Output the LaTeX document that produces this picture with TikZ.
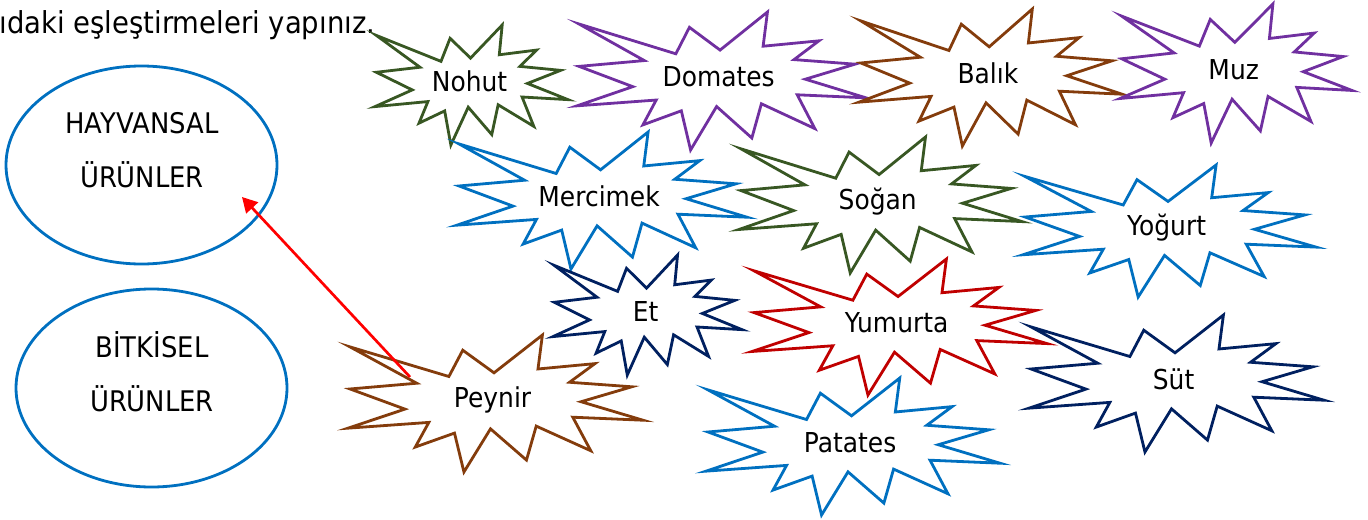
\documentclass[tikz,border=0pt]{standalone}
\usepackage{fontspec}
\setmainfont{DejaVu Sans}[FakeStretch=0.91]
\usepackage{tikz}
\usetikzlibrary{arrows.meta,shapes.geometric}

\definecolor{yesil}{HTML}{385723}
\definecolor{mor}{HTML}{7030A0}
\definecolor{kahve}{HTML}{843C0C}
\definecolor{mavi}{HTML}{0070C0}
\definecolor{lacivert}{HTML}{002060}
\definecolor{kirmizi}{HTML}{C00000}

% explosion: name, colour, left, top, width, height, text
\newcommand{\patlama}[7]{%
  \begin{scope}[shift={(#3,#4)},xscale=#5,yscale=#6]
    \draw[#2,line width=1.4pt,fill=white] (0.007,0.087) -- (0.342,0.303) -- (0.389,0.111) -- (0.495,0.276)
      -- (0.659,0.0) -- (0.644,0.248) -- (0.837,0.209) -- (0.751,0.345) -- (0.962,0.378) -- (0.790,0.487)
      -- (1.0,0.622) -- (0.762,0.600) -- (0.823,0.845) -- (0.638,0.665) -- (0.605,0.913) -- (0.483,0.685)
      -- (0.393,1.0) -- (0.361,0.716) -- (0.228,0.818) -- (0.274,0.638) -- (0.0,0.680) -- (0.193,0.541)
      -- (0.007,0.394) -- (0.233,0.352) -- cycle;
    \node[text=black,font=\fontsize{13.7}{16}\selectfont] (#1) at (0.49,0.472) {#7};
  \end{scope}}

\begin{document}
\begin{tikzpicture}[x=0.5pt,y=-0.5pt]
\useasboundingbox (0,0) rectangle (1368,519);

% Title
\node[anchor=base west,inner sep=0pt,font=\fontsize{15.1}{18}\selectfont] (baslik) at (-1,34) {ıdaki eşleştirmeleri yapınız.};

% Groups
\node[ellipse,draw=mavi,line width=1.4pt,minimum width=135.5pt,minimum height=99pt] (hayvansal) at (141.5,165) {};
\node[align=center,font=\fontsize{14.2}{27}\selectfont] (hayvansal-yazi) at (142,150) {HAYVANSAL\\ÜRÜNLER};
\node[ellipse,draw=mavi,line width=1.4pt,minimum width=135.5pt,minimum height=99pt] (bitkisel) at (151.5,388) {};
\node[align=center,font=\fontsize{14.2}{27}\selectfont] (bitkisel-yazi) at (152,371.5) {BİTKİSEL\\ÜRÜNLER};

% Foods
\patlama{nohut}{yesil}{375}{25}{193}{120}{Nohut}
\patlama{domates}{mor}{577}{12}{289}{138}{Domates}
\patlama{balik}{kahve}{859}{9}{263}{137}{Balık}
\patlama{muz}{mor}{1120}{4}{232}{139}{Muz}
\patlama{mercimek}{mavi}{457}{132}{290}{137}{Mercimek}
\patlama{sogan}{yesil}{739}{137}{283}{136}{Soğan}
\patlama{yogurt}{mavi}{1023}{165}{293}{132}{Yoğurt}
\patlama{et}{lacivert}{553}{255}{189}{120}{Et}
\patlama{yumurta}{kirmizi}{752}{259}{295}{136}{Yumurta}
\patlama{sut}{lacivert}{1029}{315}{295}{137}{Süt}
\patlama{peynir}{kahve}{348}{335}{295}{137}{Peynir}
\patlama{patates}{mavi}{706}{378}{294}{137}{Patates}

% Matching arrow
\coordinate (ok-bas) at (410,377);
\coordinate (ok-uc) at (242,197);
\draw[red,line width=1.35pt,-{Triangle[length=7.5pt,width=8pt]}] (ok-bas) -- (ok-uc);

\end{tikzpicture}
\end{document}
